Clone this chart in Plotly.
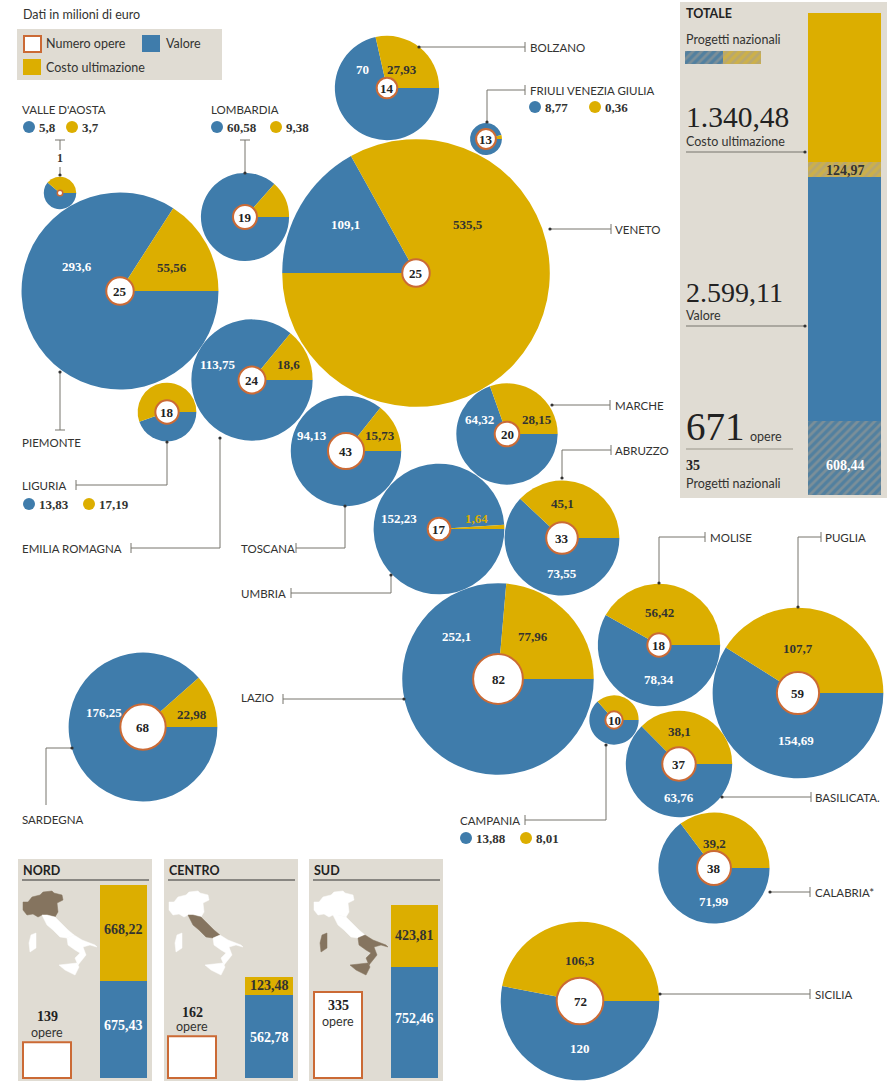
import math
import plotly.graph_objects as go

W, H = 893, 1081
BLUE = "#3f7cab"
GOLD = "#dcae00"
PANEL = "#e0dcd3"
ORANGE = "#cb6a35"
INK = "#333331"
LINE = "#77756d"
BROWN = "#85745f"
HATCH_BLUE = "#52809f"
HATCH_GOLD = "#ccb04a"
STRIPE = "#a49e93"
SANS = "Lato"
SERIF = "Liberation Serif"

# Regional data: name, valore, costo ultimazione, numero opere
REGIONS = ["Piemonte", "Valle d'Aosta", "Lombardia", "Bolzano", "Friuli", "Veneto", "Liguria",
           "Emilia Romagna", "Toscana", "Marche", "Umbria", "Abruzzo", "Lazio", "Sardegna",
           "Molise", "Puglia", "Campania", "Basilicata", "Calabria", "Sicilia"]
VALORE = [293.6, 5.8, 60.58, 70, 8.77, 109.1, 13.83, 113.75, 94.13, 64.32, 152.23, 73.55,
          252.1, 176.25, 78.34, 154.69, 13.88, 63.76, 71.99, 120]
COSTO = [55.56, 3.7, 9.38, 27.93, 0.36, 535.5, 17.19, 18.6, 15.73, 28.15, 1.64, 45.1,
         77.96, 22.98, 56.42, 107.7, 8.01, 38.1, 39.2, 106.3]
OPERE = [25, 1, 19, 14, 13, 25, 18, 24, 43, 20, 17, 33, 82, 68, 18, 59, 10, 37, 38, 72]
CENTER_X = [120, 60, 245, 387, 486, 416, 167, 252, 346, 507, 439, 562, 498, 143, 659, 798, 614, 679, 714, 580]
CENTER_Y = [291, 193, 217, 88, 139, 273, 412, 380, 451, 434, 529, 538, 679, 727, 645, 693, 720, 764, 868, 1001]
# Start of the blue slice, degrees clockwise from twelve o'clock
ROTATION = [90, 90, 90, 90, 90, 270, 90, 90, 90, 90, 90, 90, 90, 90, 90, 90, 90, 90, 90, 90]

# Italian-formatted labels printed on the pies: (text, x, y, colour)
VALUE_LABELS = [
    ("293,6", 77, 266, "white"), ("55,56", 172, 267, INK),
    ("109,1", 345, 224, "white"), ("535,5", 468, 224, INK),
    ("70", 362, 69, "white"), ("27,93", 402, 69, INK),
    ("113,75", 218, 364, "white"), ("18,6", 288, 364, INK),
    ("94,13", 312, 435, "white"), ("15,73", 380, 435, INK),
    ("64,32", 479, 419, "white"), ("28,15", 537, 419, INK),
    ("152,23", 399, 518, "white"), ("1,64", 476, 518, GOLD),
    ("45,1", 562, 503, INK), ("73,55", 562, 573, "white"),
    ("252,1", 456, 636, "white"), ("77,96", 533, 636, INK),
    ("56,42", 659, 612, INK), ("78,34", 659, 679, "white"),
    ("107,7", 798, 648, INK), ("154,69", 796, 740, "white"),
    ("38,1", 679, 731, INK), ("63,76", 679, 797, "white"),
    ("39,2", 714, 843, INK), ("71,99", 714, 901, "white"),
    ("106,3", 580, 960, INK), ("120", 580, 1048, "white"),
    ("176,25", 104, 712, "white"), ("22,98", 192, 714, INK),
]

# Region names with leader lines: name, label x, y, polyline, tick position, dot at the end
CALLOUTS = [
    ("BOLZANO", 530, 47, [(525, 47), (419, 47)], "v", True),
    ("FRIULI VENEZIA GIULIA", 530, 90, [(525, 90), (487, 90), (487, 122)], "v", True),
    ("VENETO", 615, 229, [(611, 229), (550, 229)], "v", True),
    ("MARCHE", 615, 405, [(610, 405), (552, 405)], "v", True),
    ("ABRUZZO", 615, 450, [(611, 450), (562, 450), (562, 478)], "v", True),
    ("MOLISE", 710, 537, [(705, 537), (659, 537), (659, 583)], "v", True),
    ("PUGLIA", 825, 537, [(821, 537), (798, 537), (798, 607)], "v", True),
    ("BASILICATA.", 815, 797, [(811, 797), (722, 797)], "v", True),
    ("CALABRIA*", 815, 892, [(810, 892), (770, 892)], "v", True),
    ("SICILIA", 815, 994, [(810, 994), (660, 994)], "v", True),
    ("CAMPANIA", 460, 820, [(525, 820), (606, 820), (606, 745)], "v", True),
    ("LAZIO", 241, 697, [(283, 699), (404, 699)], "v", True),
    ("UMBRIA", 241, 593, [(291, 593), (391, 593), (391, 575)], "v", True),
    ("TOSCANA", 241, 548, [(296, 548), (345, 548), (345, 506)], "v", True),
    ("EMILIA ROMAGNA", 22, 548, [(131, 548), (220, 548), (220, 438)], "v", True),
    ("LIGURIA", 22, 485, [(76, 485), (167, 485), (167, 442)], "v", True),
    ("PIEMONTE", 22, 442, [(60, 430), (60, 372)], "h", True),
    ("SARDEGNA", 22, 819, [(46, 805), (46, 748), (72, 748)], None, True),
    ("VALLE D'AOSTA", 22, 109, [(60, 140), (60, 150)], "h", False),
    ("LOMBARDIA", 211, 109, [(245, 140), (245, 173)], "h", True),
]

# Small regions whose figures sit in a key next to the name
KEYS = [
    (29, 127, "5,8", 72, "3,7"),
    (217, 127, "60,58", 276, "9,38"),
    (535, 107, "8,77", 595, "0,36"),
    (29, 504, "13,83", 89, "17,19"),
    (466, 838, "13,88", 526, "8,01"),
]

# National total stacked bar
TOTALE_COSTO = 1340.48
TOTALE_VALORE = 2599.11
NAZ_COSTO = 124.97
NAZ_VALORE = 608.44

# Area panels: title, valore, costo, opere
AREE = ["NORD", "CENTRO", "SUD"]
AREA_VALORE = [675.43, 562.78, 752.46]
AREA_COSTO = [668.22, 123.48, 423.81]
AREA_OPERE = [139, 162, 335]
AREA_PANEL_X = [18, 164, 309]
AREA_BAR_X = [(100, 147), (245, 293), (391, 438)]
AREA_BAR_TOP = [885, 977, 905]
AREA_BOX_X = [23, 168, 314]
AREA_NUM_Y = [(1016, 1032), (1012, 1026), (1005, 1021)]
AREA_VAL_LABEL_Y = [1025, 1037, 1018]
AREA_COST_LABEL_Y = [929, 985, 935]

# Italy outline pieces, drawn relative to the NORD panel
ITALY = {
    "nord": [(23, 52), (28, 52), (32, 47), (40, 45), (43, 42), (52, 41), (54, 43), (62, 45), (63, 50),
             (57, 53), (58, 62), (55, 67), (47, 65), (42, 65), (38, 67), (33, 64), (27, 65), (23, 60)],
    "centro": [(42, 65), (47, 65), (55, 67), (60, 72), (68, 80), (74, 85), (67, 88), (60, 87), (53, 80), (47, 75)],
    "sud": [(67, 88), (74, 85), (82, 90), (95, 95), (97, 97), (90, 95), (83, 97), (86, 105), (78, 115),
            (75, 108), (80, 103), (75, 100), (68, 95)],
    "sicilia": [(59, 115), (77, 113), (79, 117), (75, 125), (65, 120)],
    "sardegna": [(31, 85), (36, 83), (36, 98), (30, 102), (29, 93)],
}
HIGHLIGHT = {"NORD": {"nord"}, "CENTRO": {"centro"}, "SUD": {"sud", "sicilia", "sardegna"}}

PIE_SCALE = 5.27       # pixels of radius per sqrt(million euro)
CIRCLE_SCALE = 2.75    # pixels of radius per sqrt(opera)
BOX_W = 48
BOX_SCALE = 0.257      # pixels of height per opera


def px_x(x):
    return x / W


def px_y(y):
    return 1 - y / H


fig = go.Figure()
shapes, notes = [], []


def text(s, x, y, size=12.5, color=INK, family=SANS, bold=False, anchor="left"):
    notes.append(dict(text=f"<b>{s}</b>" if bold else s, x=x, y=y, xref="x", yref="y", showarrow=False,
                      xanchor=anchor, yanchor="middle", align=anchor,
                      font=dict(size=size, color=color, family=family), borderpad=0, borderwidth=0))


def rect(x0, y0, x1, y1, fill, line=None, lw=0, layer="above"):
    shapes.append(dict(type="rect", x0=x0, y0=y0, x1=x1, y1=y1, xref="x", yref="y", fillcolor=fill,
                       line=dict(color=line or fill, width=lw), layer=layer))


def circle(cx, cy, r, fill, line=None, lw=0):
    shapes.append(dict(type="circle", x0=cx - r, y0=cy - r, x1=cx + r, y1=cy + r, xref="x", yref="y",
                       fillcolor=fill, line=dict(color=line or fill, width=lw), layer="above"))


def seg(x0, y0, x1, y1, color=LINE, w=1):
    shapes.append(dict(type="line", x0=x0, y0=y0, x1=x1, y1=y1, xref="x", yref="y",
                       line=dict(color=color, width=w), layer="above"))


def polygon(pts, fill):
    path = "M " + " L ".join(f"{x},{y}" for x, y in pts) + " Z"
    shapes.append(dict(type="path", path=path, xref="x", yref="y", fillcolor=fill,
                       line=dict(color=fill, width=0.5), layer="above"))


# Invisible pixel-space axes carry the annotations and furniture
fig.add_trace(go.Scatter(x=[0, W], y=[0, H], mode="markers", marker=dict(opacity=0), hoverinfo="skip", showlegend=False))
axes = dict(
    xaxis=dict(range=[0, W], domain=[0, 1], visible=False, fixedrange=True),
    yaxis=dict(range=[H, 0], domain=[0, 1], visible=False, fixedrange=True),
)


def add_axes(n, x0, x1, y0, y1, xr, yr):
    axes[f"xaxis{n}"] = dict(domain=[px_x(x0), px_x(x1)], range=xr, anchor=f"y{n}", visible=False, fixedrange=True)
    axes[f"yaxis{n}"] = dict(domain=[px_y(y1), px_y(y0)], range=yr, anchor=f"x{n}", visible=False, fixedrange=True)


def stacked(n, parts):
    for value, color, pattern in parts:
        marker = dict(color=color, line=dict(width=0))
        if pattern:
            marker["pattern"] = dict(shape="/", fgcolor=pattern, bgcolor=color, size=6, solidity=0.45)
        fig.add_trace(go.Bar(x=[0], y=[value], width=1, marker=marker, xaxis=f"x{n}", yaxis=f"y{n}",
                             hoverinfo="skip", showlegend=False))


# Panels behind the bars
rect(17, 29, 222, 80, PANEL, layer="below")
rect(680, 2, 887, 498, PANEL, layer="below")
for px in AREA_PANEL_X:
    rect(px, 859, px + 134, 1081, PANEL, layer="below")

# Key block
text("Dati in milioni di euro", 23, 14)
rect(24, 36, 41, 52, "white", ORANGE, 2)
text("Numero opere", 46, 43)
rect(142, 35, 160, 52, BLUE)
text("Valore", 166, 43)
rect(23, 59, 41, 75, GOLD)
text("Costo ultimazione", 46, 67)

# Total column: solid and hatched parts stack from the bottom
add_axes(2, 808, 881, 13, 495, [-0.5, 0.5], [0, TOTALE_COSTO + TOTALE_VALORE])
stacked(2, [(NAZ_VALORE, HATCH_BLUE, STRIPE), (TOTALE_VALORE - NAZ_VALORE, BLUE, None),
            (NAZ_COSTO, HATCH_GOLD, STRIPE), (TOTALE_COSTO - NAZ_COSTO, GOLD, None)])
text("124,97", 845, 170, 14, INK, SERIF, True, "center")
text("608,44", 845, 465, 14, "white", SERIF, True, "center")

# Hatched swatch for national projects
add_axes(3, 685, 761, 51, 64, [0, 2], [-0.5, 0.5])
for color in (HATCH_BLUE, HATCH_GOLD):
    fig.add_trace(go.Bar(x=[1], y=[0], width=1, orientation="h", xaxis="x3", yaxis="y3", hoverinfo="skip", showlegend=False,
                         marker=dict(color=color, line=dict(width=0),
                                     pattern=dict(shape="/", fgcolor=STRIPE, bgcolor=color, size=6, solidity=0.45))))

text("TOTALE", 686, 13, 12.5, "#222", SANS, True)
text("Progetti nazionali", 686, 39)
text("1.340,48", 686, 117, 29.5, "#222", SERIF)
text("Costo ultimazione", 686, 141)
seg(686, 152, 805, 152)
circle(805, 152, 1.6, "#333")
text("2.599,11", 686, 292, 28, "#222", SERIF)
text("Valore", 686, 315)
seg(686, 326, 805, 326)
circle(805, 326, 1.6, "#333")
text("671", 686, 426, 39, "#222", SERIF)
text("opere", 750, 436)
seg(686, 449, 793, 449, "#9a968a")
text("35", 686, 465, 14, "#222", SERIF, True)
text("Progetti nazionali", 686, 483)

# North / centre / south panels
for i, name in enumerate(AREE):
    px = AREA_PANEL_X[i]
    n = 4 + i
    bx0, bx1 = AREA_BAR_X[i]
    add_axes(n, bx0, bx1, AREA_BAR_TOP[i], 1078, [-0.5, 0.5], [0, AREA_VALORE[i] + AREA_COSTO[i]])
    stacked(n, [(AREA_VALORE[i], BLUE, None), (AREA_COSTO[i], GOLD, None)])
    text(name, px + 5, 870, 12.5, "#222", SANS, True)
    seg(px + 4, 880, px + 131, 880, "#333", 1.2)
    box_top = 1078 - AREA_OPERE[i] * BOX_SCALE
    rect(AREA_BOX_X[i], box_top, AREA_BOX_X[i] + BOX_W, 1078, "white", ORANGE, 2)
    cx = AREA_BOX_X[i] + BOX_W / 2
    text(str(AREA_OPERE[i]), cx, AREA_NUM_Y[i][0], 14, "#222", SERIF, True, "center")
    text("opere", cx, AREA_NUM_Y[i][1], 12.5, INK, SANS, False, "center")
    bc = (bx0 + bx1) / 2
    fmt = lambda v: f"{v:.2f}".replace(".", ",")
    text(fmt(AREA_COSTO[i]), bc, AREA_COST_LABEL_Y[i], 14, INK, SERIF, True, "center")
    text(fmt(AREA_VALORE[i]), bc, AREA_VAL_LABEL_Y[i], 14, "white", SERIF, True, "center")
    for piece, pts in ITALY.items():
        polygon([(px - 18 + x, y + 850) for x, y in pts],
                BROWN if piece in HIGHLIGHT[name] else "white")

# Regional pies, sized by total amount; going clockwise from the start angle, blue comes first
for i, name in enumerate(REGIONS):
    cx, cy = CENTER_X[i], CENTER_Y[i]
    r = PIE_SCALE * math.sqrt(VALORE[i] + COSTO[i])
    fig.add_trace(go.Pie(values=[VALORE[i], COSTO[i]], labels=["Valore", "Costo"], name=name,
                         marker=dict(colors=[BLUE, GOLD], line=dict(width=0)),
                         domain=dict(x=[px_x(cx - r), px_x(cx + r)], y=[px_y(cy + r), px_y(cy - r)]),
                         rotation=ROTATION[i], direction="clockwise", sort=False,
                         textinfo="none", hoverinfo="skip", showlegend=False))
    inner = CIRCLE_SCALE * math.sqrt(OPERE[i])
    circle(cx, cy, inner, "white", ORANGE, 2 if OPERE[i] > 1 else 1.5)
    if OPERE[i] > 1:
        text(str(OPERE[i]), cx, cy, 13, "#222", SERIF, True, "center")

for s, x, y, color in VALUE_LABELS:
    text(s, x, y, 13, color, SERIF, True, "center")

# Leader lines and region names
for name, lx, ly, pts, tick, dot in CALLOUTS:
    text(name, lx, ly, 11.5, INK, SANS)
    for (x0, y0), (x1, y1) in zip(pts, pts[1:]):
        seg(x0, y0, x1, y1)
    tx, ty = pts[0]
    if tick == "v":
        seg(tx, ty - 5, tx, ty + 5)
    elif tick == "h":
        seg(tx - 5, ty, tx + 5, ty)
    if dot:
        circle(pts[-1][0], pts[-1][1], 1.6, "#333")

# Valle d'Aosta has a broken leader with its single-work count inside
seg(60, 167, 60, 175)
circle(60, 175, 1.6, "#333")
text("1", 60, 158, 12, INK, SERIF, True, "center")

for bx, y, blue_txt, gx, gold_txt in KEYS:
    circle(bx, y, 6, BLUE)
    text(blue_txt, bx + 10, y, 13, INK, SERIF, True)
    circle(gx, y, 6, GOLD)
    text(gold_txt, gx + 10, y, 13, INK, SERIF, True)

fig.update_layout(width=W, height=H, margin=dict(l=0, r=0, t=0, b=0), autosize=False,
                  paper_bgcolor="white", plot_bgcolor="rgba(0,0,0,0)", barmode="stack", bargap=0,
                  showlegend=False, shapes=shapes, annotations=notes, **axes)
fig.write_html("out.html", config=dict(displayModeBar=False))
